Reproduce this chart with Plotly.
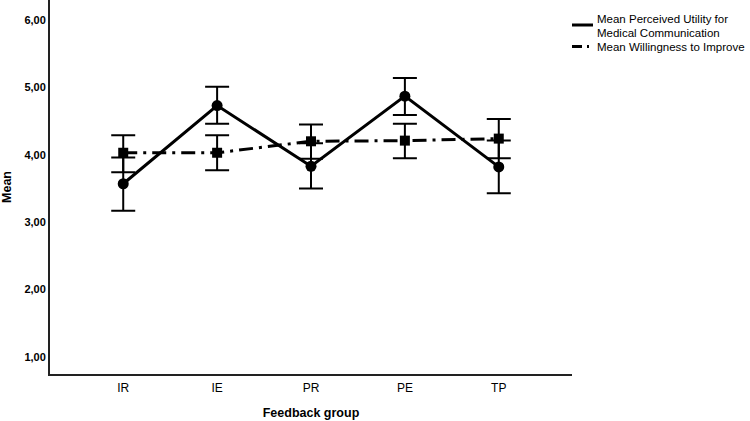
import plotly.graph_objects as go

groups = ["IR", "IE", "PR", "PE", "TP"]

utility_mean = [3.57, 4.73, 3.83, 4.87, 3.82]
utility_low = [3.17, 4.46, 3.50, 4.59, 3.43]
utility_high = [3.96, 5.01, 4.17, 5.14, 4.21]

willing_mean = [4.03, 4.03, 4.20, 4.21, 4.24]
willing_low = [3.74, 3.77, 3.94, 3.95, 3.95]
willing_high = [4.29, 4.29, 4.45, 4.46, 4.53]

y_tickvals = [1, 2, 3, 4, 5, 6]
y_ticktext = ["1,00", "2,00", "3,00", "4,00", "5,00", "6,00"]

legend_lines = [
    ["Mean Perceived Utility for", "Medical Communication"],
    ["Mean Willingness to Improve"],
]

FONT = "Liberation Sans, Arial, sans-serif"
W, H = 750, 421
L, R, T, B = 50, 178, 0, 47
PW, PH = W - L - R, H - T - B


def px_x(x):
    return (x - L) / PW


def px_y(y):
    return (H - B - y) / PH


fig = go.Figure()

fig.add_trace(go.Scatter(
    x=groups, y=utility_mean, mode="lines+markers",
    line=dict(color="black", width=3),
    marker=dict(symbol="circle", size=11, color="black"),
    error_y=dict(type="data", symmetric=False,
                 array=[h - m for h, m in zip(utility_high, utility_mean)],
                 arrayminus=[m - l for m, l in zip(utility_mean, utility_low)],
                 color="black", thickness=2, width=12),
    showlegend=False,
))

fig.add_trace(go.Scatter(
    x=groups, y=willing_mean, mode="lines+markers",
    line=dict(color="black", width=3, dash="14px,6px,3px,6px"),
    marker=dict(symbol="square", size=10, color="black"),
    error_y=dict(type="data", symmetric=False,
                 array=[h - m for h, m in zip(willing_high, willing_mean)],
                 arrayminus=[m - l for m, l in zip(willing_mean, willing_low)],
                 color="black", thickness=2, width=12),
    showlegend=False,
))

# manual legend
shapes = [
    dict(type="line", xref="paper", yref="paper",
         x0=px_x(572), x1=px_x(593), y0=px_y(25), y1=px_y(25),
         line=dict(color="black", width=3)),
    dict(type="line", xref="paper", yref="paper",
         x0=px_x(572), x1=px_x(593), y0=px_y(46.5), y1=px_y(46.5),
         line=dict(color="black", width=3, dash="10px,5px,2px,8px")),
]
text_rows = [(legend_lines[0][0], 19.5), (legend_lines[0][1], 33), (legend_lines[1][0], 46.5)]
annotations = [
    dict(xref="paper", yref="paper", x=px_x(596), y=px_y(yy), xanchor="left", yanchor="middle",
         text=t, showarrow=False, align="left", borderpad=0,
         font=dict(family=FONT, size=11.5, color="black"))
    for t, yy in text_rows
]

fig.update_layout(
    width=W, height=H,
    margin=dict(l=L, r=R, t=T, b=B),
    paper_bgcolor="white", plot_bgcolor="white",
    font=dict(family=FONT, color="black"),
    shapes=shapes, annotations=annotations,
    xaxis=dict(
        range=[-0.78, 4.78], showgrid=False, zeroline=False,
        showline=True, linecolor="#222", linewidth=2,
        ticks="", ticklabelstandoff=2,
        tickfont=dict(family=FONT, size=12, color="black"),
        title=dict(text="Feedback group", font=dict(family=FONT, size=12.5, color="black", weight="bold"),
                   standoff=14),
    ),
    yaxis=dict(
        range=[0.748, 6.296], showgrid=False, zeroline=False,
        showline=True, linecolor="#222", linewidth=2,
        tickvals=y_tickvals, ticktext=y_ticktext,
        ticks="", tickfont=dict(family=FONT, size=11, color="black", weight="bold"),
        title=dict(text="Mean", font=dict(family=FONT, size=12.5, color="black", weight="bold"),
                   standoff=10),
    ),
)

fig.write_html("out.html")
